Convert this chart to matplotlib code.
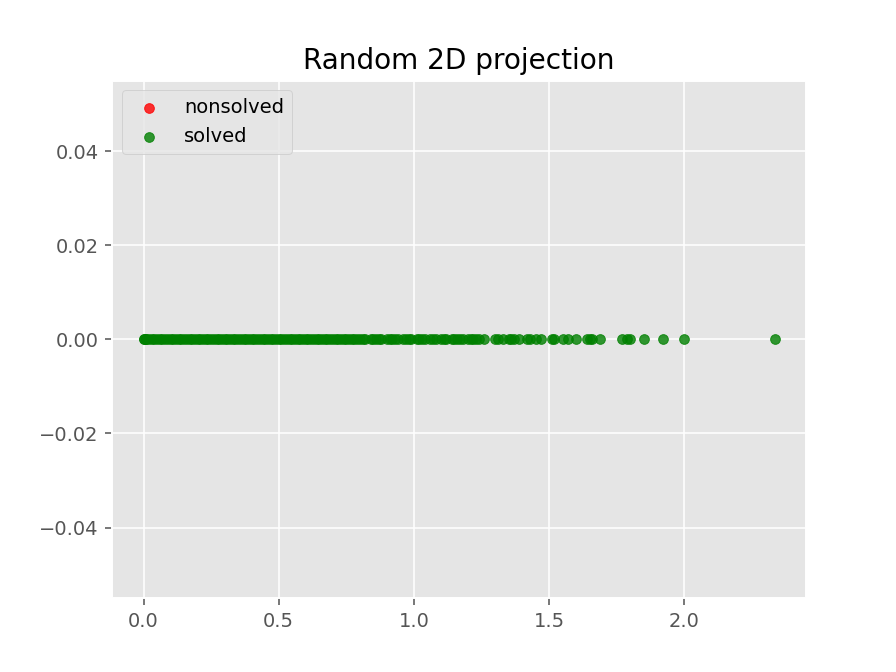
import matplotlib
matplotlib.use('Agg')
import matplotlib.pyplot as plt

plt.style.use('ggplot')

# projected x values (y is all zero)
solved_x = [
    0.00, 0.00, 0.01, 0.01, 0.02, 0.03, 0.04, 0.05, 0.06, 0.07, 0.08, 0.09,
    0.10, 0.11, 0.12, 0.13, 0.14, 0.15, 0.16, 0.17, 0.18, 0.19, 0.20, 0.21,
    0.22, 0.23, 0.24, 0.25, 0.26, 0.27, 0.28, 0.29, 0.30, 0.31, 0.32, 0.33,
    0.34, 0.35, 0.36, 0.37, 0.38, 0.39, 0.40, 0.41, 0.42, 0.43, 0.44, 0.45,
    0.46, 0.47, 0.48, 0.49, 0.50, 0.51, 0.52, 0.53, 0.54, 0.55, 0.56, 0.57,
    0.58, 0.59, 0.60, 0.61, 0.62, 0.63, 0.64, 0.65, 0.66, 0.67, 0.68, 0.69,
    0.70, 0.71, 0.72, 0.73, 0.74, 0.75, 0.76, 0.77, 0.78, 0.79, 0.80, 0.81,
    0.82, 0.84, 0.85, 0.86, 0.87, 0.88, 0.90, 0.91, 0.92, 0.93, 0.94, 0.96,
    0.97, 0.98, 0.99, 1.01, 1.02, 1.03, 1.04, 1.06, 1.07, 1.08, 1.10, 1.11,
    1.12, 1.14, 1.15, 1.16, 1.17, 1.18, 1.20, 1.21, 1.22, 1.23, 1.24, 1.26,
    1.30, 1.31, 1.33, 1.35, 1.36, 1.37, 1.39, 1.42, 1.43, 1.45, 1.47,
    1.51, 1.52, 1.55, 1.57, 1.60, 1.64, 1.65, 1.66, 1.69,
    1.77, 1.79, 1.80, 1.85, 1.92, 2.00, 2.335,
]
solved_y = [0.0] * len(solved_x)

nonsolved_x = []
nonsolved_y = []

fig, ax = plt.subplots(figsize=(6.4, 4.8), dpi=140)
ax.scatter(nonsolved_x, nonsolved_y, color='red', alpha=0.8, s=25, label='nonsolved')
ax.scatter(solved_x, solved_y, color='green', alpha=0.8, s=25, label='solved')
ax.set_title('Random 2D projection')
ax.legend(loc='upper left')

plt.savefig('out.png')
